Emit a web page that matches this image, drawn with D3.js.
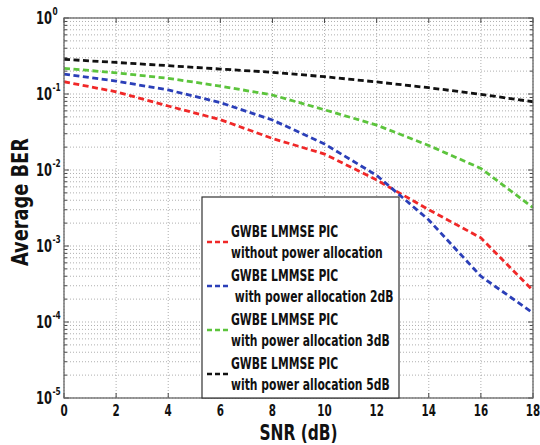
<!DOCTYPE html>
<html><head><meta charset="utf-8">
<script src="https://cdn.jsdelivr.net/npm/d3@7"></script>
<style>
body{margin:0;background:#fff;}
svg text{font-family:"DejaVu Sans Condensed","DejaVu Sans",sans-serif;font-weight:bold;fill:#111;}
</style></head>
<body><svg id="c" width="540" height="445"></svg>
<script>
const snr = [0,2,4,6,8,10,12,14,16,18];
const redVals   = [0.145,0.107,0.0695,0.046,0.026,0.0162,0.0074,0.0030,0.00128,0.00026];
const blueVals  = [0.183,0.148,0.113,0.077,0.0455,0.022,0.0085,0.0022,0.00040,0.000131];
const greenVals = [0.218,0.190,0.161,0.127,0.097,0.062,0.039,0.021,0.0105,0.0032];
const blackVals = [0.286,0.260,0.236,0.213,0.193,0.169,0.144,0.121,0.099,0.079];
const seriesNames = [
  ["GWBE LMMSE PIC","without power allocation"],
  ["GWBE LMMSE PIC"," with power allocation 2dB"],
  ["GWBE LMMSE PIC","with power allocation 3dB"],
  ["GWBE LMMSE PIC","with power allocation 5dB"]
];
const seriesColors = ["#f02828","#2b3fb8","#5cc43c","#111111"];
const xTicks = [0,2,4,6,8,10,12,14,16,18];
const yExps = [0,-1,-2,-3,-4,-5];

const svg = d3.select("#c");
const L=64,R=533,T=18,B=398;
const x = d3.scaleLinear().domain([0,18]).range([L,R]);
const y = d3.scaleLog().domain([1e-5,1]).range([B,T]);

function txt(parent,px,py,str,size,sx,anchor,rot){
  const t=parent.append("text")
    .attr("transform",`translate(${px},${py})`+(rot?` rotate(${rot})`:"")+` scale(${sx},1)`)
    .attr("x",0).attr("y",0).attr("text-anchor",anchor||"start")
    .attr("xml:space","preserve").style("font-size",size+"px").text(str);
  return t;
}

// grid
const g = svg.append("g");
const minor=[];
for(let e=-5;e<0;e++){for(let m=1;m<10;m++){minor.push(m*Math.pow(10,e));}}
minor.push(1);
g.selectAll("line.hy").data(minor).join("line")
  .attr("x1",L).attr("x2",R).attr("y1",d=>y(d)).attr("y2",d=>y(d))
  .attr("stroke","#9a9a9a").attr("stroke-width",0.8).attr("stroke-dasharray","1,2");
g.selectAll("line.vx").data(xTicks).join("line")
  .attr("x1",d=>x(d)).attr("x2",d=>x(d)).attr("y1",T).attr("y2",B)
  .attr("stroke","#9a9a9a").attr("stroke-width",0.8).attr("stroke-dasharray","1,2");

// ticks inside
const tk = svg.append("g").attr("stroke","#444").attr("stroke-width",1);
minor.forEach(v=>{
  const isMaj = Math.abs(Math.log10(v)-Math.round(Math.log10(v)))<1e-9;
  const len = isMaj?5:3;
  tk.append("line").attr("x1",L).attr("x2",L+len).attr("y1",y(v)).attr("y2",y(v));
  tk.append("line").attr("x1",R).attr("x2",R-len).attr("y1",y(v)).attr("y2",y(v));
});
xTicks.forEach(v=>{
  tk.append("line").attr("x1",x(v)).attr("x2",x(v)).attr("y1",B).attr("y2",B-5);
  tk.append("line").attr("x1",x(v)).attr("x2",x(v)).attr("y1",T).attr("y2",T+5);
});

// lines
const data=[redVals,blueVals,greenVals,blackVals];
const line=d3.line().x((d,i)=>x(snr[i])).y(d=>y(d));
svg.append("clipPath").attr("id","cp").append("rect").attr("x",L).attr("y",T).attr("width",R-L).attr("height",B-T);
data.forEach((vals,k)=>{
  svg.append("path").datum(vals).attr("d",line).attr("fill","none")
    .attr("stroke",seriesColors[k]).attr("stroke-width",2.8).attr("stroke-dasharray","6,3.5")
    .attr("clip-path","url(#cp)");
});

// axis box
svg.append("rect").attr("x",L).attr("y",T).attr("width",R-L).attr("height",B-T)
  .attr("fill","none").attr("stroke","#666").attr("stroke-width",1.3);

// x tick labels
xTicks.forEach(d=>{ txt(svg,x(d),416,String(d),16,0.72,"middle"); });
// y tick labels
yExps.forEach(e=>{
  const yy=y(Math.pow(10,e));
  txt(svg,52,yy+6,"10",17,0.75,"end");
  txt(svg,52.5,yy-3,e===0?"0":String(e),11,0.75,"start");
});

// axis titles
txt(svg,x(9),440,"SNR (dB)",22,0.78,"middle");
txt(svg,28,202,"Average BER",23,0.86,"middle",-90);

// legend
const lg=svg.append("g");
lg.append("rect").attr("x",202).attr("y",197).attr("width",197).attr("height",201)
  .attr("fill","#fff").attr("stroke","#333").attr("stroke-width",1.2);
const ent0=237, step=44;
seriesNames.forEach((nm,k)=>{
  const cy=ent0+k*step;
  lg.append("line").attr("x1",207).attr("x2",229).attr("y1",cy+5).attr("y2",cy+5)
    .attr("stroke",seriesColors[k]).attr("stroke-width",2.5).attr("stroke-dasharray","5,3");
  txt(lg,231,cy,nm[0],15,0.8,"start");
  txt(lg,231,cy+21,nm[1],15,0.8,"start");
});
</script></body></html>
